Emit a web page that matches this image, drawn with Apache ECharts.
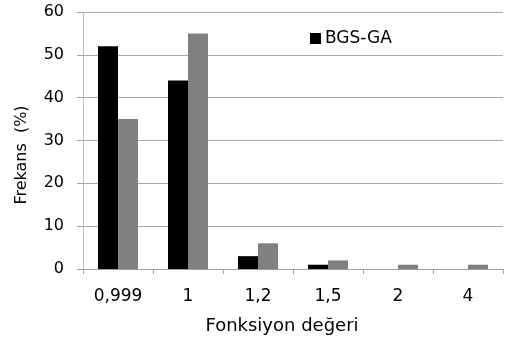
<!DOCTYPE html>
<html><head><meta charset="utf-8">
<script src="https://cdn.jsdelivr.net/npm/echarts@6/dist/echarts.min.js"></script>
<style>html,body{margin:0;padding:0;background:#fff}#c{width:505px;height:340px}</style>
</head><body><div id="c"></div>
<script>
const categories = ['0,999', '1', '1,2', '1,5', '2', '4'];
const seriesBGS = [52, 44, 3, 1, 0, 0];
const seriesOther = [35, 55, 6, 2, 1, 1];
const yTicks = [0, 10, 20, 30, 40, 50, 60];
const xTitle = 'Fonksiyon değeri';
const yTitle = 'Frekans  (%)';
const FONT = 'DejaVu Sans';
const chart = echarts.init(document.getElementById('c'));
chart.setOption({
  animation: false,
  backgroundColor: '#fff',
  grid: { left: 83, right: 2, top: 12, bottom: 71, containLabel: false },
  legend: {
    data: ['BGS-GA'], left: 305, top: 25, itemWidth: 11, itemHeight: 11, itemGap: 4,
    textStyle: { fontFamily: FONT, fontSize: 17, color: '#000', padding: [0,0,0,-1] }, icon: 'rect'
  },
  graphic: [{
    type: 'text', x: 22, y: 155, rotation: Math.PI / 2,
    style: { text: yTitle, fontFamily: FONT, fontSize: 16, fill: '#000',
      align: 'center', verticalAlign: 'middle' }
  }, {
    type: 'text', x: 282, y: 326,
    style: { text: xTitle, fontFamily: FONT, fontSize: 18, fill: '#000',
      align: 'center', verticalAlign: 'middle' }
  }],
  xAxis: {
    type: 'category', data: categories,
    axisLine: { lineStyle: { color: '#a0a0a0' } },
    axisTick: { show: true, length: 5, lineStyle: { color: '#a0a0a0' } },
    axisLabel: { fontFamily: FONT, fontSize: 17, color: '#000', margin: 19 }
  },
  yAxis: {
    type: 'value', min: 0, max: 60, interval: 10,
    axisLine: { show: true, lineStyle: { color: '#c0c0c0' } },
    axisTick: { show: true, length: 6, lineStyle: { color: '#a0a0a0' } },
    axisLabel: { fontFamily: FONT, fontSize: 16, color: '#000', margin: 19,
      formatter: v => yTicks.includes(v) ? String(v) : '' },
    splitLine: { lineStyle: { color: '#a8a8a8', width: 1 } }
  },
  series: [
    { name: 'BGS-GA', type: 'bar', data: seriesBGS, barWidth: 20, barGap: '0%',
      itemStyle: { color: '#000' } },
    { name: 'other', type: 'bar', data: seriesOther, barWidth: 20,
      itemStyle: { color: '#808080' } }
  ]
});
</script></body></html>
